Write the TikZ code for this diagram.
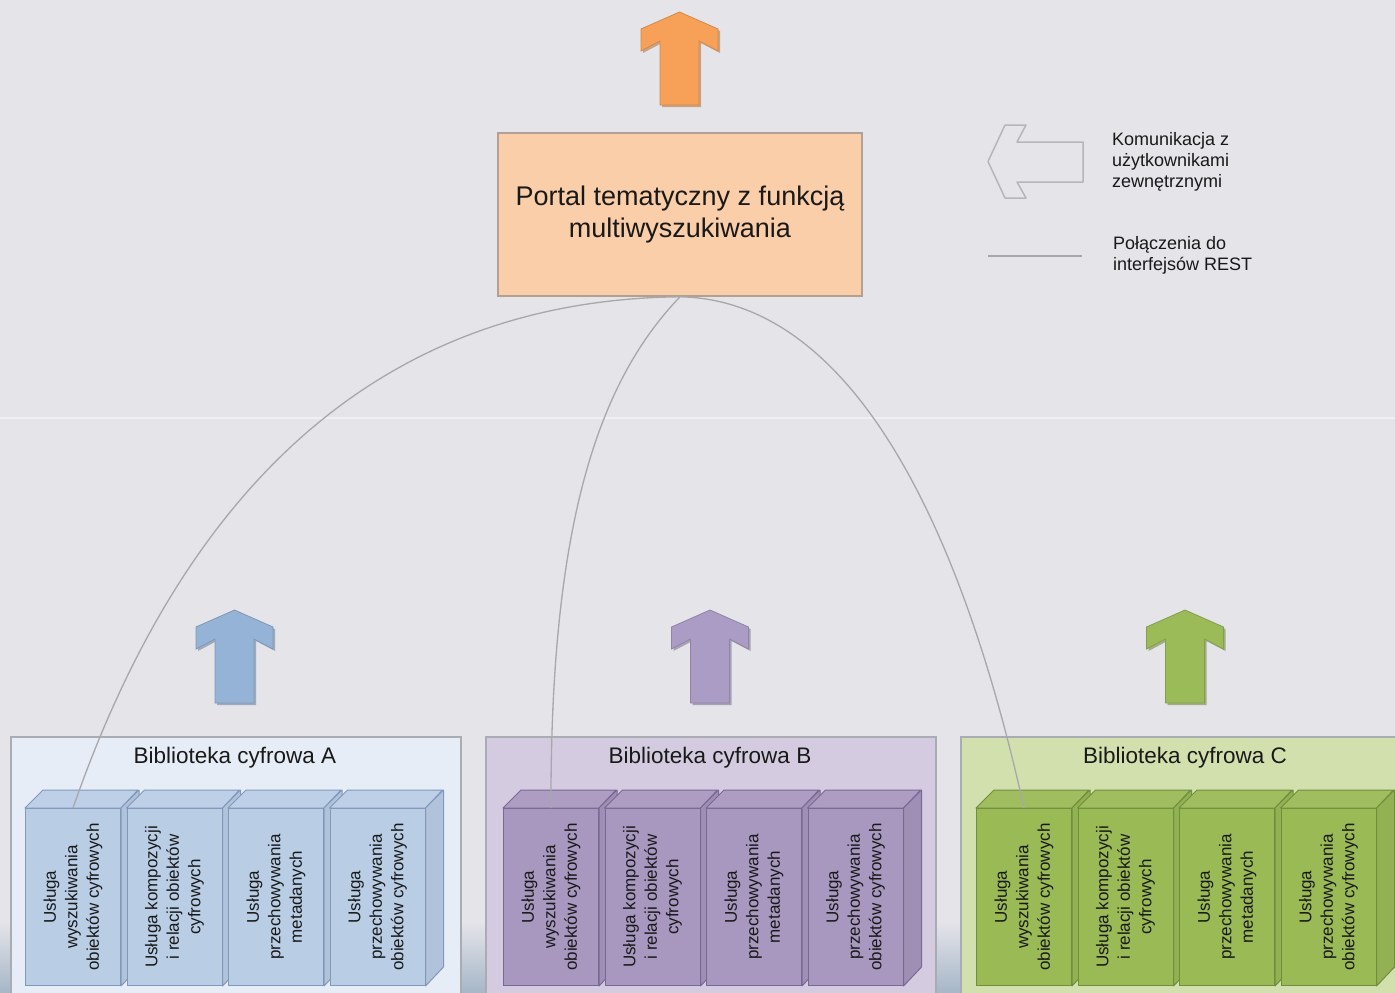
\documentclass[tikz,border=0pt]{standalone}
\usepackage{fontspec}
\setmainfont{Liberation Sans}
\begin{document}
\begin{tikzpicture}[x=1pt,y=-1pt]
% colours
\definecolor{bg}{RGB}{228,228,233}
\definecolor{bgbot}{RGB}{166,182,200}
\definecolor{sepline}{RGB}{240,240,243}
\definecolor{restline}{RGB}{168,168,170}
\definecolor{legendbd}{RGB}{182,182,186}
\definecolor{portalfill}{RGB}{250,206,168}
\definecolor{portalbd}{RGB}{178,160,146}
\definecolor{arrOrange}{RGB}{247,160,88}
\definecolor{arrBlue}{RGB}{149,179,215}
\definecolor{arrPurple}{RGB}{170,156,196}
\definecolor{arrGreen}{RGB}{155,187,89}
\definecolor{libAfill}{RGB}{230,237,246}
\definecolor{libBfill}{RGB}{212,203,224}
\definecolor{libCfill}{RGB}{210,224,174}
\definecolor{libbd}{RGB}{170,172,180}
\definecolor{cubeA}{RGB}{185,205,229}
\definecolor{cubeAbd}{RGB}{130,152,186}
\definecolor{cubeB}{RGB}{168,151,190}
\definecolor{cubeBbd}{RGB}{122,104,148}
\definecolor{cubeC}{RGB}{154,186,86}
\definecolor{cubeCbd}{RGB}{112,142,62}
\definecolor{txt}{RGB}{25,25,25}

\tikzset{
  portal/.style={draw=portalbd, fill=portalfill, line width=1.6,
    minimum width=364, minimum height=163, inner sep=0, align=center,
    text=txt, font=\fontsize{27}{32.5}\selectfont},
  library/.style={draw=libbd, line width=2, minimum width=450,
    minimum height=270, inner sep=0, anchor=north west},
  libtitle/.style={text=txt, font=\fontsize{22.5}{26}\selectfont, inner sep=0},
  cubefront/.style={line width=1, minimum width=95, minimum height=177,
    inner sep=0, anchor=north west},
  cubetext/.style={rotate=90, align=center, text=txt, inner sep=0,
    font=\fontsize{17}{21.5}\selectfont},
  legendtext/.style={align=left, anchor=west, text=txt, inner sep=0,
    font=\fontsize{18}{21}\selectfont},
  rest/.style={draw=restline, line width=1.3},
}

% block arrow pointing up: centre x, tip y, colour
\newcommand\UpArrow[3]{%
  \begin{scope}[shift={(#1,#2)}]
    \fill[#3!70!black, opacity=0.55] (2,2) -- (-36.5,19) -- (-36.5,41) -- (-17.5,31)
      -- (-17.5,95) -- (21.5,95) -- (21.5,31) -- (40.5,41) -- (40.5,19) -- cycle;
    \filldraw[fill=#3, draw=#3!85!black, line width=0.8]
      (0,0) -- (-38.5,17) -- (-38.5,39) -- (-19.5,29) -- (-19.5,93)
      -- (19.5,93) -- (19.5,29) -- (38.5,39) -- (38.5,17) -- cycle;
  \end{scope}}

% service cuboid: name, front-left x, fill, border, text
\newcommand\Cube[5]{%
  \node[cubefront, fill=#3, draw=#4] (#1) at (#2,808) {};
  \filldraw[fill=#3!94!white, draw=#4, line width=1, line join=round]
    (#1.north west) -- ++(18,-18) -- ++(95,0) -- (#1.north east) -- cycle;
  \filldraw[fill=#3!95!black, draw=#4, line width=1, line join=round]
    (#1.north east) -- ++(18,-18) -- ++(0,177) -- (#1.south east) -- cycle;
  \node[cubetext] (#1t) at (#1.center) {#5};}

\useasboundingbox (0,0) rectangle (1395,993);
\clip (0,0) rectangle (1395,993);

% background
\fill[bg] (0,0) rectangle (1395,993);
\shade[top color=bg, bottom color=bgbot] (0,922) rectangle (1395,993);
\draw[sepline, line width=1.5] (0,418) -- (1395,418);

% portal and its outgoing arrow
\UpArrow{679.5}{12}{arrOrange}
\node[portal] (portal) at (680,214.5) {Portal tematyczny z funkcją\\multiwyszukiwania};

% legend
\filldraw[fill=bg, draw=legendbd, line width=1.5, line join=round]
  (1005,125) -- (1026,125) -- (1017,142) -- (1083,142) -- (1083,182)
  -- (1017,182) -- (1026,198) -- (1005,198) -- (988,161.5) -- cycle;
\node[legendtext] (legarrow) at (1112,162) {Komunikacja z\\użytkownikami\\zewnętrznymi};
\coordinate (legA) at (988,256);
\coordinate (legB) at (1082,256);
\draw[restline, line width=2] (legA) -- (legB);
\node[legendtext] (legline) at (1113,255.5) {Połączenia do\\interfejsów REST};

% arrows above the libraries
\UpArrow{234.5}{610}{arrBlue}
\UpArrow{710}{610}{arrPurple}
\UpArrow{1185}{610}{arrGreen}

% library containers
\node[library, fill=libAfill] (libA) at (10,736) {};
\node[library, fill=libBfill] (libB) at (485,736) {};
\node[library, fill=libCfill] (libC) at (960,736) {};
\node[libtitle] (libAt) at (235,758) {Biblioteka cyfrowa A};
\node[libtitle] (libBt) at (710,758) {Biblioteka cyfrowa B};
\node[libtitle] (libCt) at (1185,758) {Biblioteka cyfrowa C};

% services in each library
\foreach \lib/\xo/\cf/\cb in {a/25/cubeA/cubeAbd, b/503/cubeB/cubeBbd, c/976/cubeC/cubeCbd}{
  \Cube{\lib1}{\xo}{\cf}{\cb}{Usługa\\wyszukiwania\\obiektów cyfrowych}
  \Cube{\lib2}{\xo+101.5}{\cf}{\cb}{Usługa kompozycji\\i relacji obiektów\\cyfrowych}
  \Cube{\lib3}{\xo+203}{\cf}{\cb}{Usługa\\przechowywania\\metadanych}
  \Cube{\lib4}{\xo+304.5}{\cf}{\cb}{Usługa\\przechowywania\\obiektów cyfrowych}
}

% REST connections from the portal to the search services
\draw[rest] (portal.south) .. controls (370,300) and (180,500) .. (a1.north);
\draw[rest] (portal.south) .. controls (600,380) and (550,520) .. (b1.north);
\draw[rest] (portal.south) .. controls (850,300) and (960,520) .. (c1.north);
\end{tikzpicture}
\end{document}
